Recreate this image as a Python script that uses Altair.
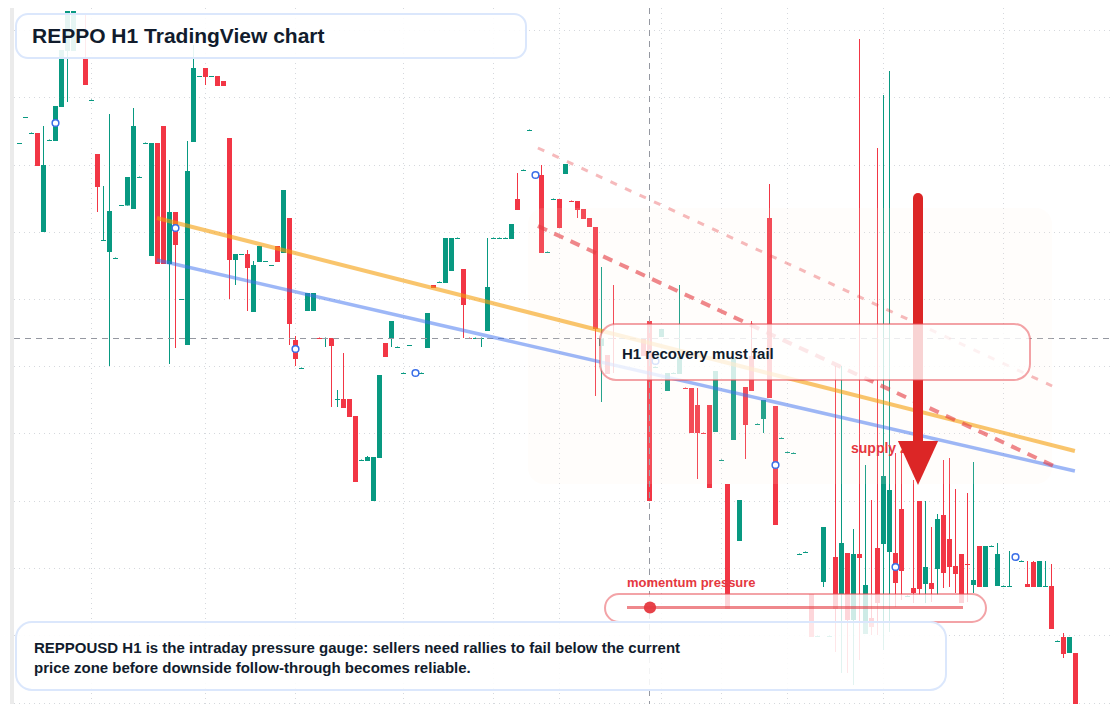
import altair as alt
import pandas as pd

# Candles: bar number = position in the lists, prices in chart units (grid step about 67)
N = None
opens = [
 560,586,570.5,571,472,563.5,563,597,653,653,
 646.5,645,603.5,550,463.5,452,445.5,498,498.5,495,
 526.5,560.5,448,561,578,440,492,404,359,562,
 627,636,627,628,623,566,444,449,450,392,
 442,442,438,458,451,486,364,335.5,393,393,
 366.5,365.5,366,304,305,305,288,243.5,243,203,
 246,361,366,356.5,330.5,358,330.5,330.5,356,419,
 421.5,421,433,465.5,435,366.5,365.5,365.5,373,465.5,
 465.5,465.5,465,505,533.5,573.5,528.5,529,451.5,504.5,
 505,530,503.5,503,495,486,477,358,349,366.5,
 N,N,N,N,365,383,336.5,367,313,330.5,
 330,316.5,316,299,271.5,299,272,243.5,220,264,
 163,317,348,279.5,285,486,298,265.5,251.5,250.5,
 149.5,151.5,110,67.5,122,67.5,147,110,151,84,
 150,70,86,156,160,152,151,195,107.5,116,
 203,120,121,135,189,165,138,150,140.5,119,
 158,117,157.5,118,117.5,117.5,147.5,142.5,120,142,
 117,117.5,118,62.5,67,51,51]
closes = [
 561,587,571.5,538,539,564.5,598,654,693,693,
 645.5,619,604.5,517,464.5,493,446.5,499,527,578,
 527.5,561.5,561,440,440,492,459,405,533,636,
 628,627,628,618,618,444,450,450,436,439,
 458,443,439,442,514,380,345,336.5,411,411,
 365.5,366.5,358,305,296,287,222,244.5,247,247,
 329,347,383,357.5,331.5,359,331.5,331.5,391,416,
 422.5,466,466,466.5,399,365.5,366.5,366.5,417,466.5,
 466.5,466.5,480,494,534.5,574.5,529.5,451,452.5,505.5,
 476,540,502.5,494,485,477,375,366,330,365.5,
 N,N,N,N,348,203,337.5,375,331,331.5,
 347,315.5,271,271,270.5,216,333,244.5,95,346,
 204,279,313,280.5,304,306,179,266.5,252.5,251.5,
 150.5,152.5,67,68.5,177,68.5,95,161,84,150,
 146,119,77,101,228,214,121,133,108.5,111,
 115,137,115,185,131,137,130,101,139.5,124,
 117,158,158.5,150,118.5,118.5,146.5,143.5,117,117,
 143,118.5,75,63.5,50,67,0]
highs = [
 561,587,571.5,571,578,564.5,598,654,693,693,
 646.5,690,604.5,550,518,590,446.5,499,527,596,
 527.5,561.5,561,561,578,544,492,405,563,659,
 628,636,628,628,623,566,450,450,454,443,
 458,443,439,458,514,486,368,336.5,411,411,
 366.5,366.5,366,314,351,305,288,244.5,248,247,
 329,361,383,357.5,331.5,359,331.5,331.5,391,419,
 422.5,466,466,466.5,435,366.5,366.5,366.5,466,466.5,
 466.5,466.5,480,531,534.5,574.5,529.5,539,452.5,505.5,
 505,540,503.5,503,495,486,477,437,349,419,
 N,N,N,N,365,383,337.5,375,331,331.5,
 419,316.5,316,316,271.5,299,333,244.5,220,346,
 204,317,383,280.5,304,520,298,266.5,252.5,251.5,
 150.5,152.5,110,68.5,177,68.5,338,338,151,175,
 665,239,204,556,609,633,251,251,108.5,224,
 203,203,177,190,244,246,215,150,211,242,
 158,158,158.5,161,118.5,153,147.5,143.5,143,143,
 143,143,140,63.5,71,67,51]
lows = [
 560,586,570.5,538,472,563.5,563,597,602,653,
 645.5,619,603.5,492,463.5,338,445.5,498,498.5,495,
 526.5,560.5,448,440,440,340,356,404,359,562,
 627,619,627,618,618,405,419,449,393,392,
 442,442,438,442,451,359,338,335.5,393,393,
 365.5,357,297,297,296,287,222,243.5,243,203,
 246,347,357,356.5,330.5,358,330.5,330.5,356,416,
 421.5,421,433,465.5,366,365.5,365.5,357,373,465.5,
 465.5,465.5,465,494,533.5,573.5,528.5,451,451.5,504.5,
 476,530,502.5,486,485,477,308,302,330,331,
 N,N,N,N,348,203,336.5,367,313,330.5,
 330,315.5,271,225,270.5,216,272,243.5,95,264,
 163,245,313,279.5,271,306,179,265.5,251.5,250.5,
 149.5,151.5,67,67.5,117,67.5,52,31,31,19,
 44,70,69,69,54,72,97,104,107.5,101,
 109,101,102,109,116,117,111,101,102,111,
 117,117,157.5,118,117.5,117.5,146.5,142.5,117,117,
 117,117.5,75,62.5,46,51,0]

marker_bars = [6, 26, 46, 66, 86, 106, 126, 146, 166]
marker_prices = [581, 476, 355, 331, 529, 343, 239, 137, 147]
grid_prices = [673.5, 606.5, 538.5, 471.5, 404.5, 337.5, 270.5, 202.5, 135.5, 68.5, 0.5]
grid_bars = [12, 31, 46, 64, 79, 90, 107, 117, 128, 144, 164]
crosshair_bar = [105]
crosshair_price = [365.5]
orange_bars, orange_prices = [22.9, 175.9], [486, 253]
blue_bars, blue_prices = [22.9, 175.9], [444, 233]
upper_bars, upper_prices = [86.4, 172.1], [556, 318]
lower_bars, lower_prices = [86.4, 172.4], [478, 238]
arrow_bar, arrow_top, arrow_tip = [149.75], [506], [263]
head_bars = [146.4, 149.75, 153.1]
head_top = [263, 263, 263]
head_bottom = [263, 219, 263]

title_text = "REPPO H1 TradingView chart"
recovery_text = "H1 recovery must fail"
supply_text = "supply zone"
momentum_text = "momentum pressure"
note_lines = [
    "REPPOUSD H1 is the intraday pressure gauge: sellers need rallies to fail below the current",
    "price zone before downside follow-through becomes reliable.",
]

W, H = 1104, 696
FONT = "Liberation Sans"
INK = "#111c2d"
GREEN, RED = "#089981", "#f23645"

xs = alt.Scale(domain=[(8 - 19.5) / 6, (8 + W - 19.5) / 6], range=[0, W], nice=False, zero=False, padding=0)
ys = alt.Scale(domain=[0, 696], range=[H, 0], nice=False, zero=False, padding=0)
X = lambda f, **k: alt.X(f, type="quantitative", scale=xs, axis=None, **k)
Y = lambda f, **k: alt.Y(f, type="quantitative", scale=ys, axis=None, **k)
V = alt.value
ONE = pd.DataFrame({"k": [0]})


def px(v):
    return V(v - 8)


def box(x0, x1, y0, y1, **mark):
    return alt.Chart(ONE).mark_rect(**mark).encode(x=px(x0), x2=px(x1), y=px(y0), y2=px(y1))


def label(text, x, y, size, color):
    return alt.Chart(ONE).mark_text(align="left", baseline="alphabetic", font=FONT, fontWeight="bold",
                                    fontSize=size, color=color).encode(x=px(x), y=px(y), text=V(text))


bars = pd.DataFrame({"i": range(len(opens)), "o": opens, "c": closes, "h": highs, "l": lows}).dropna()
bars["side"] = ["up" if c > o else "down" for o, c in zip(bars.o, bars.c)]
# flat bars are one price unit tall: hold them on whole units so they stay crisp
flat = (bars.o - bars.c).abs() <= 1
bars.loc[flat, "o"] = bars.loc[flat, "o"].astype(int)
bars.loc[flat, "c"] = bars.loc[flat, "c"].astype(int)
colour = alt.Color("side:N", scale=alt.Scale(domain=["up", "down"], range=[GREEN, RED]), legend=None)

band = box(10, 14, 8, 704, color="#ebebeb")
hgrid = alt.Chart(pd.DataFrame({"p": grid_prices})).mark_rule(color="#d5d8dd", strokeDash=[1, 4], strokeWidth=1).encode(
    y=Y("p"), x=px(14), x2=px(1112))
vgrid = alt.Chart(pd.DataFrame({"b": grid_bars})).mark_rule(color="#d5d8dd", strokeDash=[1, 4], strokeWidth=1).encode(
    x=X("b"))
wicks = alt.Chart(bars).mark_rule(strokeWidth=1).encode(x=X("i"), y=Y("l"), y2="h", color=colour)
bodies = alt.Chart(bars).mark_bar(size=5, clip=True).encode(x=X("i"), y=Y("o"), y2="c", color=colour)
cross_h = alt.Chart(pd.DataFrame({"p": crosshair_price})).mark_rule(color="#9598a1", strokeDash=[6, 5], strokeWidth=1).encode(
    y=Y("p"), x=px(14), x2=px(1112))
cross_v = alt.Chart(pd.DataFrame({"b": crosshair_bar})).mark_rule(color="#9598a1", strokeDash=[6, 5], strokeWidth=1).encode(
    x=X("b"))
zone = box(528, 1052, 208, 484, color="#fdeee0", opacity=0.12, cornerRadius=16)


def line(bx, py, **mark):
    return alt.Chart(pd.DataFrame({"b": bx, "p": py})).mark_line(**mark).encode(x=X("b"), y=Y("p"))


orange = line(orange_bars, orange_prices, color="#f59e0b", opacity=0.6, strokeWidth=4)
blue = line(blue_bars, blue_prices, color="#3b6ff0", opacity=0.5, strokeWidth=3.5)
upper = line(upper_bars, upper_prices, color="#e5383f", opacity=0.35, strokeWidth=3, strokeDash=[7, 9])
lower = line(lower_bars, lower_prices, color="#e5383f", opacity=0.6, strokeWidth=4, strokeDash=[10, 8])
markers = alt.Chart(pd.DataFrame({"b": marker_bars, "p": marker_prices})).mark_circle(
    size=45, color="white", opacity=1, stroke="#3b6fe8", strokeWidth=1.5).encode(x=X("b"), y=Y("p"))
supply = label(supply_text, 851, 453, 14, "#e5383f")
shaft = alt.Chart(pd.DataFrame({"b": arrow_bar, "a": arrow_top, "z": arrow_tip})).mark_rule(
    color="#dc2626", strokeWidth=10, strokeCap="round").encode(x=X("b"), y=Y("a"), y2="z")
head = alt.Chart(pd.DataFrame({"b": head_bars, "t": head_top, "u": head_bottom})).mark_area(
    color="#dc2626", opacity=1).encode(x=X("b"), y=Y("t"), y2="u")

pink = dict(stroke="#e8474f", strokeOpacity=0.5, strokeWidth=2)
blueish = dict(stroke="#dbe7fc", strokeWidth=2)
recovery = box(600, 1030, 324, 380, color="white", fillOpacity=0.8, cornerRadius=16, **pink)
recovery_label = label(recovery_text, 622, 359, 15, INK)
pill = box(605, 986, 594, 622, color="white", fillOpacity=0.8, cornerRadius=14, **pink)
meter = alt.Chart(ONE).mark_rule(color="#e5383f", opacity=0.6, strokeWidth=3).encode(x=px(627), x2=px(963), y=px(607.5))
dot = alt.Chart(ONE).mark_circle(size=150, color="#e5383f", opacity=0.95).encode(x=px(650), y=px(607.5))
momentum = label(momentum_text, 627, 587, 13, "#e5383f")
title_panel = box(16, 526, 14, 58, color="white", fillOpacity=0.9, cornerRadius=12, **blueish)
title = label(title_text, 32, 43, 21, INK)
note_panel = box(16, 946, 622, 690, color="white", fillOpacity=0.88, cornerRadius=16, **blueish)
note1 = label(note_lines[0], 34, 653, 15, INK)
note2 = label(note_lines[1], 34, 673, 15, INK)

chart = alt.layer(
    band, hgrid, vgrid, wicks, bodies, cross_h, cross_v, zone,
    orange, blue, upper, lower, markers, supply, shaft, head,
    recovery, recovery_label, pill, meter, dot, momentum,
    title_panel, title, note_panel, note1, note2,
).properties(width=W, height=H, padding=0, autosize="none", background="white").configure_view(stroke=None)

chart.save("out.html", embed_options={"renderer": "svg", "actions": False})
